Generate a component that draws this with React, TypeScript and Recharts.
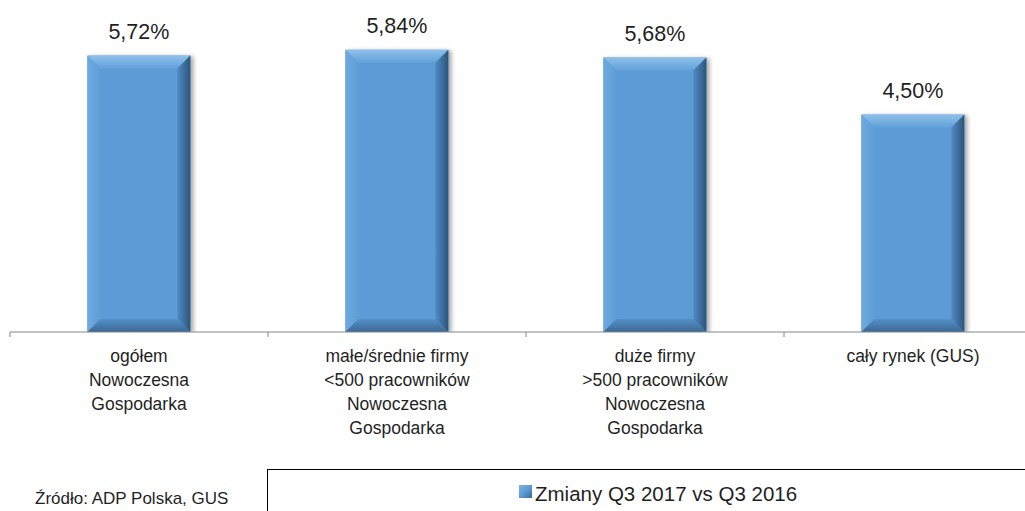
import React from 'react';
import { BarChart, Bar, XAxis, YAxis, LabelList } from 'recharts';

const categories = [
  'ogółem\nNowoczesna\nGospodarka',
  'małe/średnie firmy\n<500 pracowników\nNowoczesna\nGospodarka',
  'duże firmy\n>500 pracowników\nNowoczesna\nGospodarka',
  'cały rynek (GUS)',
];
const values = [5.72, 5.84, 5.68, 4.5];
const seriesName = 'Zmiany Q3 2017 vs Q3 2016';
const sourceNote = 'Źródło: ADP Polska, GUS';

const data = categories.map((name, i) => ({ name, value: values[i] }));

const FONT = '"Liberation Sans Narrow", "Liberation Sans", Arial, sans-serif';
const TEXT = '#1f1f1f';
const AXIS = '#868686';

const fmt = (v: number) => v.toFixed(2).replace('.', ',') + '%';

const BevelBar = (props: any) => {
  const { x, y, width: w, height: h } = props;
  if (!h || h <= 0) return null;
  const b = Math.min(13, w / 2, h / 2);
  const x2 = x + w;
  const y2 = y + h;
  return (
    <g>
      <rect x={x} y={y} width={w} height={h} fill="#5B9BD5" filter="url(#barShadow)" />
      <polygon points={`${x},${y} ${x2},${y} ${x2 - b},${y + b} ${x + b},${y + b}`} fill="url(#bevTop)" />
      <polygon points={`${x},${y} ${x + b},${y + b} ${x + b},${y2 - b} ${x},${y2}`} fill="url(#bevLeft)" />
      <polygon points={`${x2},${y} ${x2},${y2} ${x2 - b},${y2 - b} ${x2 - b},${y + b}`} fill="url(#bevRight)" />
      <polygon points={`${x},${y2} ${x + b},${y2 - b} ${x2 - b},${y2 - b} ${x2},${y2}`} fill="url(#bevBottom)" />
    </g>
  );
};

const CategoryTick = (props: any) => {
  const { x, payload, index } = props;
  const half = payload && payload.offset ? payload.offset : 129;
  const lines = String(payload.value).split('\n');
  const axisY = 332;
  return (
    <g>
      <line x1={x - half} x2={x - half} y1={axisY} y2={axisY + 5} stroke={AXIS} />
      {index === categories.length - 1 && (
        <line x1={x + half} x2={x + half} y1={axisY} y2={axisY + 5} stroke={AXIS} />
      )}
      <text textAnchor="middle" fontFamily={FONT} fontSize={17.5} fill={TEXT}>
        {lines.map((l, i) => (
          <tspan key={i} x={x} y={axisY + 30 + i * 24}>
            {l}
          </tspan>
        ))}
      </text>
    </g>
  );
};

const ValueLabel = (props: any) => {
  const { x, y, width, value } = props;
  return (
    <text x={x + width / 2} y={y - 17} textAnchor="middle" fontFamily={FONT} fontSize={21.5} fill={TEXT}>
      {fmt(value)}
    </text>
  );
};

export default function App() {
  return (
    <div style={{ position: 'absolute', left: 0, top: 0, width: 1025, height: 511, overflow: 'hidden', background: '#fff' }}>
      <BarChart width={1042} height={511} data={data} margin={{ top: 0, right: 0, left: 10, bottom: 0 }} barCategoryGap="30%">
        <defs>
          <filter id="barShadow" x="-20%" y="-10%" width="150%" height="130%">
            <feDropShadow dx="3" dy="1" stdDeviation="2" floodColor="#000" floodOpacity="0.35" />
          </filter>
          <linearGradient id="bevTop" x1="0" y1="0" x2="0" y2="1">
            <stop offset="0%" stopColor="#8FC0EA" />
            <stop offset="100%" stopColor="#62A1DA" />
          </linearGradient>
          <linearGradient id="bevLeft" x1="0" y1="0" x2="1" y2="0">
            <stop offset="0%" stopColor="#6EAAE0" />
            <stop offset="100%" stopColor="#5E9DD7" />
          </linearGradient>
          <linearGradient id="bevRight" x1="0" y1="0" x2="1" y2="0">
            <stop offset="0%" stopColor="#4F8BC3" />
            <stop offset="100%" stopColor="#2C5479" />
          </linearGradient>
          <linearGradient id="bevBottom" x1="0" y1="0" x2="0" y2="1">
            <stop offset="0%" stopColor="#5690C8" />
            <stop offset="100%" stopColor="#3A6894" />
          </linearGradient>
        </defs>
        <XAxis
          dataKey="name"
          interval={0}
          height={179}
          axisLine={{ stroke: AXIS, strokeWidth: 1 }}
          tickLine={false}
          tick={<CategoryTick />}
        />
        <YAxis hide domain={[0, 6.87]} allowDataOverflow />
        <Bar dataKey="value" name={seriesName} shape={<BevelBar />} isAnimationActive={false}>
          <LabelList dataKey="value" content={<ValueLabel />} />
        </Bar>
      </BarChart>
      <div
        style={{
          position: 'absolute',
          left: 267,
          top: 469,
          width: 800,
          height: 80,
          borderLeft: '1px solid #000',
          borderTop: '1px solid #000',
          boxSizing: 'border-box',
        }}
      >
        <div style={{ position: 'absolute', left: 251, top: 15, width: 13, height: 13, background: 'linear-gradient(135deg, #7DB3E3 0%, #5B9BD5 50%, #3A6894 100%)' }} />
        <div style={{ position: 'absolute', left: 267, top: 10, fontFamily: FONT, fontSize: 20.5, color: TEXT, whiteSpace: 'nowrap', lineHeight: '28px' }}>
          {seriesName}
        </div>
      </div>
      <div style={{ position: 'absolute', left: 35, top: 489, fontFamily: FONT, fontSize: 17, color: TEXT, whiteSpace: 'nowrap', lineHeight: '20px' }}>
        {sourceNote}
      </div>
    </div>
  );
}
